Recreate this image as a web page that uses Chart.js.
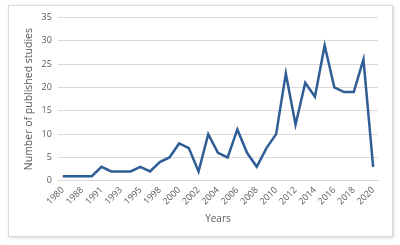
<!DOCTYPE html>
<html>
<head>
<meta charset="utf-8">
<script src="https://cdn.jsdelivr.net/npm/chart.js@4"></script>
<style>
  html, body { margin: 0; padding: 0; background: #fff; }
  #card {
    position: absolute; left: 8px; top: 5px; width: 383px; height: 230px;
    border: 1px solid #d9d9d9; box-shadow: 1px 1px 3px rgba(0,0,0,0.15); background: #fff;
  }
  canvas { display: block; }
</style>
</head>
<body>
<div id="card"><canvas id="studiesChart" width="383" height="230"></canvas></div>
<script>
// years on the x axis (only every other one is labelled)
const years = ['1980', '1986', '1988', '1990', '1991', '1992', '1993', '1994', '1995', '1997',
  '1998', '1999', '2000', '2001', '2002', '2003', '2004', '2005', '2006', '2007', '2008',
  '2009', '2010', '2011', '2012', '2013', '2014', '2015', '2016', '2017', '2018', '2019', '2020'];
// number of published studies per year
const studies = [1, 1, 1, 1, 3, 2, 2, 2, 3, 2, 4, 5, 8, 7, 2, 10, 6, 5, 11, 6, 3,
  7, 10, 23, 12, 21, 18, 29, 20, 19, 19, 26, 3];
const yTicks = [0, 5, 10, 15, 20, 25, 30, 35];

const fontFamily = "'Open Sans', 'Liberation Sans', sans-serif";
const tickColor = '#595959';

const ctx = document.getElementById('studiesChart').getContext('2d');
const studiesChart = new Chart(ctx, {
    type: 'line',
    data: {
        labels: years,
        datasets: [{
            data: studies,
            borderColor: '#2f5d95',
            borderWidth: 2.5,
            pointRadius: 0,
            tension: 0,
            fill: false
        }]
    },
    options: {
        responsive: false,
        animation: false,
        layout: { padding: { left: 14, right: 14, top: 2, bottom: 11 } },
        plugins: { legend: { display: false }, tooltip: { enabled: false } },
        scales: {
            x: {
                offset: true,
                grid: { display: false, drawTicks: false },
                border: { color: '#d9d9d9' },
                // the first rotated label would push the plot right
                afterFit: function (axis) { axis.paddingLeft = 0; },
                ticks: {
                    autoSkip: false,
                    maxRotation: 45,
                    minRotation: 45,
                    color: tickColor,
                    font: { family: fontFamily, size: 9 },
                    padding: 4,
                    callback: function (val, i) { return i % 2 === 0 ? years[i] : ''; }
                },
                title: {
                    display: true,
                    text: 'Years',
                    color: tickColor,
                    font: { family: fontFamily, size: 10 },
                    padding: { top: 2, bottom: 0 }
                }
            },
            y: {
                min: 0,
                max: 35,
                afterBuildTicks: function (axis) { axis.ticks = yTicks.map(v => ({ value: v })); },
                grid: { color: '#d9d9d9', drawTicks: false },
                border: { display: false },
                ticks: {
                    color: tickColor,
                    font: { family: fontFamily, size: 9 },
                    padding: 6
                },
                title: {
                    display: true,
                    text: 'Number of published studies',
                    color: tickColor,
                    font: { family: fontFamily, size: 10.5 },
                    padding: { top: 0, bottom: 0 }
                }
            }
        }
    }
});
</script>
</body>
</html>
